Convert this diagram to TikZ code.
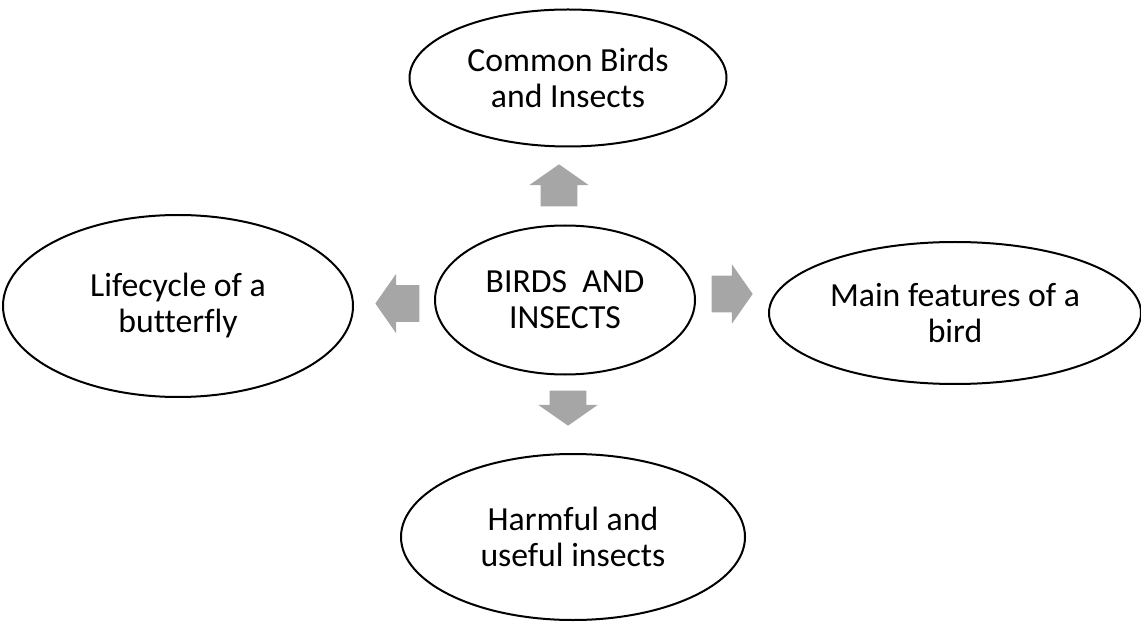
\documentclass[tikz,border=0pt]{standalone}
\usepackage{fontspec}
\setmainfont{Carlito}[Ligatures=NoCommon]
\usetikzlibrary{shapes.geometric}
\usetikzlibrary{shapes.arrows}
\definecolor{blockgray}{RGB}{166,166,166}

\begin{document}
\begin{tikzpicture}[x=0.75pt, y=-0.75pt,
  topic/.style={draw, ellipse, line width=1.5pt, inner sep=0pt, align=center, font=\fontsize{25.3}{27}\selectfont},
  block/.style={single arrow, fill=blockgray, draw=none, inner xsep=0pt, inner ysep=13.5pt, minimum width=0pt, single arrow head extend=8.6pt, single arrow tip angle=110}]

\useasboundingbox (0,0) rectangle (1141,623);

\node[topic, minimum width=237.75pt, minimum height=102.75pt] (common) at (568,78) {Common Birds\\and Insects};
\node[topic, minimum width=195pt, minimum height=111.75pt] (main) at (565,300) {BIRDS\ \ AND\\INSECTS};
\node[topic, minimum width=262.5pt, minimum height=136.5pt] (life) at (178,306) {Lifecycle of a\\butterfly};
\node[topic, minimum width=279pt, minimum height=106.5pt] (bird) at (955,313) {Main features of a\\bird};
\node[topic, minimum width=258pt, minimum height=124.5pt] (harm) at (573,537) {Harmful and\\useful insects};

%block arrows
\node[block, rotate=90, anchor=tip, minimum height=31.5pt] (up) at (559,164) {};
\node[block, rotate=180, anchor=tip, minimum height=33pt] (left) at (375,303.5) {};
\node[block, rotate=0, anchor=tip, minimum height=30.75pt] (right) at (753,294) {};
\node[block, rotate=-90, anchor=tip, minimum height=26.25pt] (down) at (568,426) {};
\end{tikzpicture}
\end{document}
